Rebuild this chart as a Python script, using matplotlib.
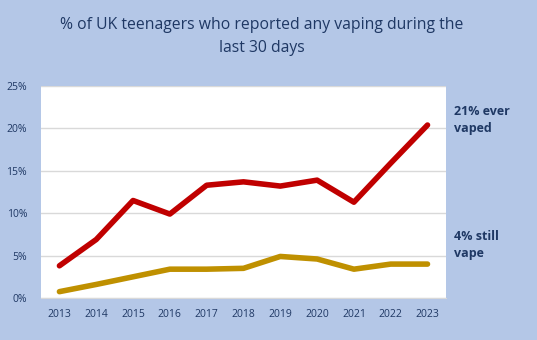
import matplotlib.pyplot as plt
from matplotlib.ticker import PercentFormatter

plt.rcParams['font.family'] = ['Open Sans', 'DejaVu Sans']

years = ['2013', '2014', '2015', '2016', '2017', '2018', '2019', '2020', '2021', '2022', '2023']
ever_vaped = [3.8, 6.9, 11.5, 9.9, 13.3, 13.7, 13.2, 13.9, 11.3, 15.9, 20.4]
still_vape = [0.75, 1.6, 2.5, 3.4, 3.4, 3.5, 4.9, 4.6, 3.4, 4.0, 4.0]
yticks = [0, 5, 10, 15, 20, 25]

bg = '#B4C7E7'
navy = '#1F3864'

fig = plt.figure(figsize=(5.37, 3.40), dpi=100, facecolor=bg)
ax = fig.add_axes([0.0764, 0.1235, 0.754, 0.6235])

x = range(len(years))
ax.plot(x, ever_vaped, color='#C00000', lw=4, solid_capstyle='round', solid_joinstyle='round', zorder=3)
ax.plot(x, still_vape, color='#BF9000', lw=4, solid_capstyle='round', solid_joinstyle='round', zorder=3)

ax.set_xlim(-0.5, len(years) - 0.5)
ax.set_ylim(0, 25)
ax.set_xticks(list(x))
ax.set_xticklabels(years)
ax.set_yticks(yticks)
ax.yaxis.set_major_formatter(PercentFormatter(decimals=0))
ax.grid(axis='y', color='#D9D9D9', lw=1)
ax.set_axisbelow(True)
for s in ['top', 'right', 'left']:
    ax.spines[s].set_visible(False)
ax.spines['bottom'].set_color('#D9D9D9')
ax.tick_params(length=0, labelsize=7.5, colors=navy, pad=8)
ax.tick_params(axis='y', pad=10)

fig.text(0.487, 0.892, '% of UK teenagers who reported any vaping during the\nlast 30 days',
         ha='center', va='center', fontsize=11.3, color=navy, linespacing=1.6)

fig.text(0.846, 0.647, '21% ever\nvaped', ha='left', va='center', fontsize=9,
         fontweight='bold', color=navy, linespacing=1.35)
fig.text(0.846, 0.279, '4% still\nvape', ha='left', va='center', fontsize=9,
         fontweight='bold', color=navy, linespacing=1.35)

fig.savefig('out.png', dpi=100, facecolor=bg)
